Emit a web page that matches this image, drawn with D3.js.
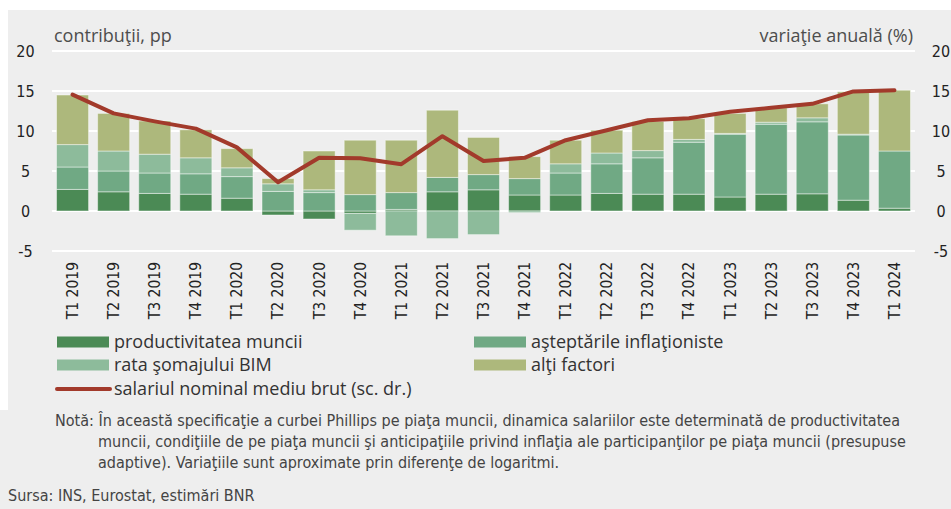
<!DOCTYPE html>
<html>
<head>
<meta charset="utf-8">
<script src="https://cdn.jsdelivr.net/npm/d3@7"></script>
<style>
  html, body { margin: 0; padding: 0; background: #ffffff; }
  svg { display: block; }
</style>
</head>
<body>
<svg id="chart" width="951" height="509"></svg>
<script>
// ---------------- data ----------------
const categories = ["T1 2019","T2 2019","T3 2019","T4 2019","T1 2020","T2 2020","T3 2020","T4 2020",
  "T1 2021","T2 2021","T3 2021","T4 2021","T1 2022","T2 2022","T3 2022","T4 2022",
  "T1 2023","T2 2023","T3 2023","T4 2023","T1 2024"];
const productivitate = [2.7, 2.4, 2.2, 2.1, 1.6, -0.5, -1.0, -0.3, 0.2, 2.4, 2.65, 2.0, 2.0, 2.2, 2.1, 2.1, 1.75, 2.1, 2.15, 1.35, 0.35];
const asteptari      = [2.8, 2.6, 2.55, 2.55, 2.7, 2.45, 2.3, 2.05, 2.1, 1.8, 1.9, 2.05, 2.75, 3.7, 4.55, 6.5, 7.85, 8.75, 9.0, 8.15, 7.15];
const somaj          = [2.8, 2.5, 2.35, 2.0, 1.1, 0.95, 0.35, -2.1, -3.1, -3.45, -2.95, -0.2, 1.15, 1.35, 0.9, 0.35, 0.1, 0.25, 0.5, 0.1, 0.0];
const altiFactori    = [6.2, 4.7, 4.15, 3.5, 2.4, 0.65, 4.85, 6.8, 6.55, 8.4, 4.65, 2.75, 2.95, 2.85, 3.65, 2.6, 2.5, 1.8, 1.75, 5.3, 7.6];
const salariu        = [14.55, 12.2, 11.2, 10.3, 7.95, 3.6, 6.65, 6.6, 5.85, 9.35, 6.25, 6.65, 8.85, 10.1, 11.35, 11.6, 12.4, 12.9, 13.4, 14.95, 15.1];
const yTicks = [-5, 0, 5, 10, 15, 20];
const yTickLabels = ["-5", "0", "5", "10", "15", "20"];

const seriesNames = ["productivitatea muncii", "aşteptările inflaţioniste", "rata şomajului BIM", "alţi factori"];
const lineName = "salariul nominal mediu brut (sc. dr.)";
const colors = {
  "productivitatea muncii": "#4b8a55",
  "aşteptările inflaţioniste": "#70a984",
  "rata şomajului BIM": "#8dbb9b",
  "alţi factori": "#adb87c"
};
const lineColor = "#a23a2b";

const rows = categories.map((c, i) => ({
  cat: c,
  "productivitatea muncii": productivitate[i],
  "aşteptările inflaţioniste": asteptari[i],
  "rata şomajului BIM": somaj[i],
  "alţi factori": altiFactori[i]
}));

// ---------------- layout ----------------
const svg = d3.select("#chart");
const condensed = "'DejaVu Sans Condensed', 'Liberation Sans Narrow', Arial, sans-serif";
const regular = "'Open Sans', 'Noto Sans', sans-serif";

// backgrounds
svg.append("rect").attr("x", 8).attr("y", 10).attr("width", 943).attr("height", 402).attr("fill", "#eeeeee");
svg.append("rect").attr("x", 0).attr("y", 410).attr("width", 951).attr("height", 99).attr("fill", "#eeeeee");

const x = d3.scaleBand().domain(categories).range([52, 915]).paddingInner(0.22).paddingOuter(0.11);
const y = d3.scaleLinear().domain([-5, 20]).range([251, 51]);
const fmt = d => yTickLabels[yTicks.indexOf(d)];

// gridlines
svg.append("g").selectAll("line").data(yTicks).join("line")
  .attr("x1", 52).attr("x2", 915)
  .attr("y1", d => y(d)).attr("y2", d => y(d))
  .attr("stroke", "#ffffff").attr("stroke-width", 2);

// left axis labels
const leftAxis = d3.axisLeft(y).tickValues(yTicks).tickFormat(fmt).tickSize(0).tickPadding(0);
const gL = svg.append("g").attr("transform", "translate(25.5,0)").call(leftAxis);
gL.select(".domain").remove();
gL.selectAll("text").attr("text-anchor", "middle").attr("dy", "0.36em")
  .style("font-family", condensed).style("font-size", "16px").attr("fill", "#222");

// right axis labels
const rightAxis = d3.axisRight(y).tickValues(yTicks).tickFormat(fmt).tickSize(0).tickPadding(0);
const gR = svg.append("g").attr("transform", "translate(941,0)").call(rightAxis);
gR.select(".domain").remove();
gR.selectAll("text").attr("text-anchor", "middle").attr("dy", "0.36em")
  .style("font-family", condensed).style("font-size", "16px").attr("fill", "#222");

// stacked bars
const stack = d3.stack().keys(seriesNames).offset(d3.stackOffsetDiverging);
const stacked = stack(rows);
svg.append("g").selectAll("g").data(stacked).join("g")
  .attr("fill", d => colors[d.key])
  .selectAll("rect").data(d => d).join("rect")
  .attr("x", d => x(d.data.cat))
  .attr("width", x.bandwidth())
  .attr("y", d => y(Math.max(d[0], d[1])))
  .attr("height", d => Math.abs(y(d[0]) - y(d[1])))
  .attr("stroke", "rgba(255,255,255,0.45)")
  .attr("stroke-width", 1);

// line
const line = d3.line()
  .x((d, i) => x(categories[i]) + x.bandwidth() / 2)
  .y(d => y(d));
svg.append("path").datum(salariu)
  .attr("d", line)
  .attr("fill", "none")
  .attr("stroke", lineColor)
  .attr("stroke-width", 4)
  .attr("stroke-linejoin", "round")
  .attr("stroke-linecap", "round");

// axis titles
svg.append("text").attr("x", 54).attr("y", 42).text("contribuţii, pp")
  .style("font-family", regular).style("font-size", "18px").attr("fill", "#4d4d4d");
svg.append("text").attr("x", 913).attr("y", 42).attr("text-anchor", "end").text("variaţie anuală (%)")
  .style("font-family", regular).style("font-size", "18px").attr("fill", "#4d4d4d");

// x labels
const xAxis = d3.axisBottom(x).tickSize(0).tickPadding(0);
const gX = svg.append("g").attr("transform", "translate(0,262)").call(xAxis);
gX.select(".domain").remove();
gX.selectAll("text")
  .attr("transform", "rotate(-90)")
  .attr("text-anchor", "end")
  .attr("x", 0).attr("y", 0).attr("dy", "0.35em")
  .style("font-family", condensed).style("font-size", "15.5px").attr("fill", "#222");

// legend
const legendItems = [
  { name: seriesNames[0], x: 57, y: 342 },
  { name: seriesNames[2], x: 57, y: 365 },
  { name: seriesNames[1], x: 474, y: 342 },
  { name: seriesNames[3], x: 474, y: 365 }
];
const lg = svg.append("g");
legendItems.forEach(it => {
  lg.append("rect").attr("x", it.x).attr("y", it.y - 5.5).attr("width", 52).attr("height", 11).attr("fill", colors[it.name]);
  lg.append("text").attr("x", it.x + 57).attr("y", it.y).attr("dy", "0.35em").text(it.name)
    .style("font-family", regular).style("font-size", "18px").attr("fill", "#333");
});
lg.append("line").attr("x1", 57).attr("x2", 110).attr("y1", 389).attr("y2", 389)
  .attr("stroke", lineColor).attr("stroke-width", 4).attr("stroke-linecap", "round");
lg.append("text").attr("x", 114).attr("y", 389).attr("dy", "0.35em").text(lineName)
  .style("font-family", regular).style("font-size", "18px").attr("fill", "#333");

// note
const noteLines = [
  { t: "Notă: În această specificaţie a curbei Phillips pe piaţa muncii, dinamica salariilor este determinată de productivitatea", x: 55, y: 426 },
  { t: "muncii, condiţiile de pe piaţa muncii şi anticipaţiile privind inflaţia ale participanţilor pe piaţa muncii (presupuse", x: 98, y: 447 },
  { t: "adaptive). Variaţiile sunt aproximate prin diferenţe de logaritmi.", x: 98, y: 468 },
  { t: "Sursa: INS, Eurostat, estimări BNR", x: 8, y: 501 }
];
svg.append("g").selectAll("text").data(noteLines).join("text")
  .attr("x", d => d.x).attr("y", d => d.y).text(d => d.t)
  .style("font-family", condensed).style("font-size", "16px").attr("fill", "#444");
</script>
</body>
</html>
